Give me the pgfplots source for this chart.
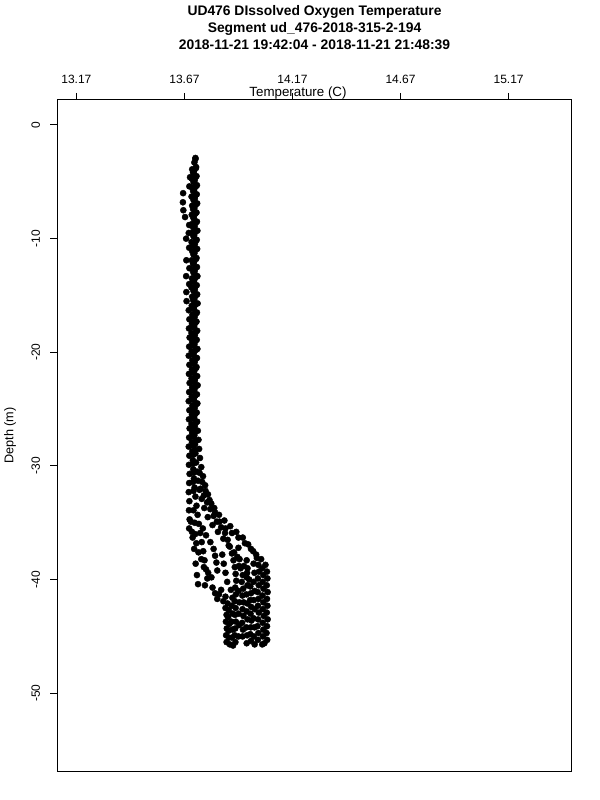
\documentclass[border=0pt]{standalone}
\usepackage{fontspec}
\setmainfont{Liberation Sans}
\usepackage{pgfplots}
\pgfplotsset{compat=1.18}
\pgfplotstableread{
T D
13.721 -2.9
13.724 -3.7
13.726 -4.5
13.728 -5.3
13.727 -6.1
13.729 -6.9
13.726 -7.7
13.728 -8.5
13.730 -9.3
13.727 -10.1
13.729 -10.9
13.726 -11.7
13.728 -12.5
13.730 -13.3
13.727 -14.1
13.729 -14.9
13.731 -15.7
13.728 -16.5
13.726 -17.3
13.729 -18.1
13.727 -18.9
13.730 -19.7
13.728 -20.5
13.726 -21.3
13.729 -22.1
13.731 -22.9
13.728 -23.7
13.730 -24.5
13.727 -25.3
13.729 -26.1
13.732 -26.9
13.735 -27.7
13.738 -28.5
13.742 -29.3
13.748 -30.1
13.756 -30.9
13.766 -31.7
13.779 -32.5
13.794 -33.3
13.812 -34.1
13.832 -34.9
13.860 -35.5
13.890 -35.9
13.920 -36.3
13.950 -36.8
13.978 -37.3
14.002 -37.8
14.025 -38.2
14.045 -38.7
14.052 -39.3
14.054 -39.9
14.051 -40.5
14.055 -41.1
14.052 -41.7
14.054 -42.3
14.051 -42.9
14.055 -43.5
14.052 -44.1
14.050 -44.7
14.053 -45.3
13.716 -3.3
13.714 -4.1
13.717 -4.9
13.715 -5.7
13.718 -6.5
13.716 -7.3
13.713 -8.1
13.717 -8.9
13.715 -9.7
13.718 -10.5
13.716 -11.3
13.714 -12.1
13.717 -12.9
13.715 -13.7
13.718 -14.5
13.716 -15.3
13.714 -16.1
13.717 -16.9
13.715 -17.7
13.718 -18.5
13.716 -19.3
13.713 -20.1
13.717 -20.9
13.715 -21.7
13.718 -22.5
13.716 -23.3
13.714 -24.1
13.717 -24.9
13.715 -25.7
13.718 -26.5
13.716 -27.3
13.719 -28.1
13.721 -28.9
13.724 -29.7
13.728 -30.5
13.733 -31.3
13.740 -32.1
13.750 -32.9
13.762 -33.7
13.778 -34.5
13.800 -35.2
13.825 -35.8
13.850 -36.4
13.875 -37.0
13.900 -37.6
13.925 -38.2
13.945 -38.8
13.960 -39.4
13.970 -40.0
13.975 -40.6
13.978 -41.2
13.974 -41.8
13.979 -42.4
13.976 -43.0
13.980 -43.6
13.977 -44.2
13.975 -44.8
13.978 -45.4
13.706 -3.9
13.704 -4.7
13.707 -5.5
13.703 -6.3
13.706 -7.1
13.704 -7.9
13.707 -8.7
13.705 -9.5
13.703 -10.3
13.706 -11.1
13.704 -11.9
13.707 -12.7
13.705 -13.5
13.703 -14.3
13.706 -15.1
13.704 -15.9
13.707 -16.7
13.705 -17.5
13.703 -18.3
13.706 -19.1
13.704 -19.9
13.707 -20.7
13.705 -21.5
13.703 -22.3
13.706 -23.1
13.704 -23.9
13.707 -24.7
13.705 -25.5
13.703 -26.3
13.706 -27.1
13.705 -27.9
13.707 -28.7
13.709 -29.5
13.711 -30.3
13.714 -31.1
13.717 -31.9
13.721 -32.7
13.726 -33.5
13.731 -34.3
13.737 -35.1
13.743 -35.9
13.750 -36.7
13.757 -37.5
13.763 -38.3
13.770 -39.1
13.776 -39.9
13.800 -40.7
13.830 -41.3
13.850 -41.9
13.860 -42.5
13.865 -43.1
13.862 -43.7
13.866 -44.3
13.863 -44.9
13.865 -45.5
13.696 -4.6
13.693 -5.4
13.664 -6.0
13.663 -6.8
13.665 -7.5
13.673 -8.1
13.692 -8.8
13.690 -9.5
13.678 -10.0
13.692 -10.8
13.679 -11.9
13.693 -12.6
13.678 -13.3
13.692 -14.0
13.679 -14.7
13.680 -15.5
13.690 -16.3
13.693 -17.1
13.691 -17.9
13.694 -18.7
13.692 -19.5
13.690 -20.3
13.693 -21.1
13.691 -21.9
13.694 -22.7
13.692 -23.5
13.690 -24.3
13.693 -25.1
13.691 -25.9
13.694 -26.7
13.692 -27.5
13.690 -28.3
13.693 -29.1
13.691 -29.9
13.694 -30.7
13.692 -31.5
13.690 -32.3
13.693 -33.1
13.691 -33.9
13.694 -34.7
13.692 -35.5
13.710 -4.2
13.712 -5.0
13.710 -5.8
13.712 -6.6
13.710 -7.4
13.712 -8.2
13.710 -9.0
13.712 -9.8
13.710 -10.6
13.712 -11.4
13.710 -12.2
13.712 -13.0
13.710 -13.8
13.712 -14.6
13.710 -15.4
13.712 -16.2
13.710 -17.0
13.712 -17.8
13.710 -18.6
13.712 -19.4
13.710 -20.2
13.712 -21.0
13.710 -21.8
13.712 -22.6
13.710 -23.4
13.712 -24.2
13.710 -25.0
13.712 -25.8
13.710 -26.6
13.712 -27.4
13.710 -28.2
13.712 -29.0
13.710 -29.8
13.712 -30.6
13.710 -31.4
13.712 -32.2
13.721 -3.0
13.723 -3.8
13.721 -4.6
13.723 -5.4
13.721 -6.2
13.723 -7.0
13.721 -7.8
13.723 -8.6
13.721 -9.4
13.723 -10.2
13.721 -11.0
13.723 -11.8
13.721 -12.6
13.723 -13.4
13.721 -14.2
13.723 -15.0
13.721 -15.8
13.723 -16.6
13.721 -17.4
13.723 -18.2
13.721 -19.0
13.723 -19.8
13.721 -20.6
13.723 -21.4
13.721 -22.2
13.723 -23.0
13.721 -23.8
13.723 -24.6
13.721 -25.4
13.723 -26.2
13.721 -27.0
13.723 -27.8
13.721 -28.6
13.745 -32.0
13.760 -32.6
13.775 -33.2
13.790 -33.8
13.805 -34.4
13.820 -34.9
13.840 -35.4
13.858 -35.9
13.870 -36.5
13.880 -37.1
13.890 -37.7
13.897 -38.3
13.903 -38.9
13.907 -39.5
13.910 -40.1
13.905 -40.7
13.908 -41.3
13.903 -41.9
13.907 -42.5
13.904 -43.1
13.908 -43.7
13.905 -44.3
13.903 -44.9
13.906 -45.5
13.740 -30.6
13.752 -31.4
13.768 -32.2
13.786 -33.0
13.808 -33.7
13.830 -34.3
13.855 -34.8
13.882 -35.3
13.910 -35.8
13.940 -36.3
13.965 -36.9
13.988 -37.5
14.005 -38.1
14.012 -38.7
14.015 -39.3
14.010 -39.9
14.014 -40.5
14.009 -41.1
14.013 -41.7
14.010 -42.3
14.014 -42.9
14.011 -43.5
14.008 -44.1
14.012 -44.7
14.010 -45.3
14.030 -45.7
13.930 -39.0
13.940 -39.6
13.935 -40.2
13.942 -40.8
13.938 -41.4
13.944 -42.0
13.939 -42.6
13.943 -43.2
13.937 -43.8
13.941 -44.4
13.939 -45.0
13.840 -40.9
13.860 -41.5
13.870 -42.1
13.875 -42.7
13.872 -43.3
13.878 -43.9
13.874 -44.5
13.876 -45.1
13.880 -45.7
13.733 -40.4
13.765 -40.5
13.812 -41.2
13.822 -41.7
13.720 -36.0
13.725 -36.8
13.735 -37.6
13.748 -38.2
13.760 -38.9
13.780 -39.4
13.795 -39.8
13.755 -35.5
13.770 -36.1
13.790 -36.7
13.805 -37.3
13.812 -37.9
13.818 -38.5
13.822 -39.2
14.030 -39.0
14.035 -39.6
14.032 -40.2
14.036 -40.8
14.031 -41.4
14.035 -42.0
14.033 -42.6
14.037 -43.2
14.032 -43.8
14.035 -44.4
14.033 -45.0
14.040 -45.6
13.845 -37.8
13.852 -38.6
13.860 -39.4
13.868 -40.2
13.885 -40.9
13.892 -41.6
13.889 -42.3
13.893 -43.0
13.888 -43.7
13.892 -44.4
13.890 -45.1
13.895 -45.8
13.958 -38.3
13.962 -39.0
13.958 -39.8
13.962 -40.5
13.957 -41.3
13.961 -42.1
13.958 -42.8
13.962 -43.5
13.957 -44.2
13.960 -44.9
13.958 -45.6
13.990 -38.6
13.994 -39.4
13.990 -40.2
13.995 -41.0
13.991 -41.8
13.995 -42.6
13.990 -43.4
13.994 -44.2
13.991 -45.0
13.995 -45.7
13.920 -37.2
13.915 -38.0
13.922 -38.8
13.920 -41.0
13.924 -42.0
13.921 -43.0
13.923 -44.0
13.920 -45.0
13.712 -33.9
13.718 -35.0
13.708 -36.3
13.715 -37.3
13.722 -38.6
13.728 -39.6
13.700 -34.9
13.705 -35.8
}\datatable
\begin{document}
\begin{tikzpicture}
\path[use as bounding box] (-43pt,-21.75pt) rectangle (407pt,578.25pt);
\begin{axis}[
  at={(0,0)}, anchor=south west,
  scale only axis, width=385.8pt, height=503.25pt,
  xmin=13.082, xmax=15.462, ymin=-56.84, ymax=2.2,
  axis line style={line width=0.75pt},
  tick align=outside, major tick length=5.25pt,
  tick style={line width=0.75pt, black},
  xtick={13.17,13.67,14.17,14.67,15.17},
  xticklabels={13.17,13.67,14.17,14.67,15.17},
  xtick pos=upper, xticklabel pos=upper,
  ytick={0,-10,-20,-30,-40,-50},
  yticklabels={0,-10,-20,-30,-40,-50},
  ytick pos=lower, yticklabel pos=lower,
  xticklabel style={font=\fontsize{9}{10}\selectfont, anchor=south, inner sep=0pt},
  xticklabel shift=6.55pt,
  yticklabel style={font=\fontsize{9}{10}\selectfont, rotate=90, anchor=south, inner sep=0pt},
  yticklabel shift=7.5pt,
]
\addplot[only marks, mark=*, mark size=2.3pt, mark options={fill=black, draw=black, line width=0.3pt}] table[x=T, y=D] {\datatable};
\end{axis}
\node[font=\bfseries\fontsize{10.4}{12}\selectfont, anchor=base] at (192.9pt,566.4pt) {UD476 DIssolved Oxygen Temperature};
\node[font=\bfseries\fontsize{10.4}{12}\selectfont, anchor=base] at (192.9pt,553.65pt) {Segment ud\_476-2018-315-2-194};
\node[font=\bfseries\fontsize{10.4}{12}\selectfont, anchor=base] at (192.9pt,540.9pt) {2018-11-21 19:42:04 - 2018-11-21 21:48:39};
\node[font=\fontsize{10}{11}\selectfont, anchor=base] at (180.5pt,506.0pt) {Temperature (C)};
\node[font=\fontsize{9.5}{11}\selectfont, rotate=90, anchor=center] at (-35.5pt,251.6pt) {Depth (m)};
\end{tikzpicture}
\end{document}
